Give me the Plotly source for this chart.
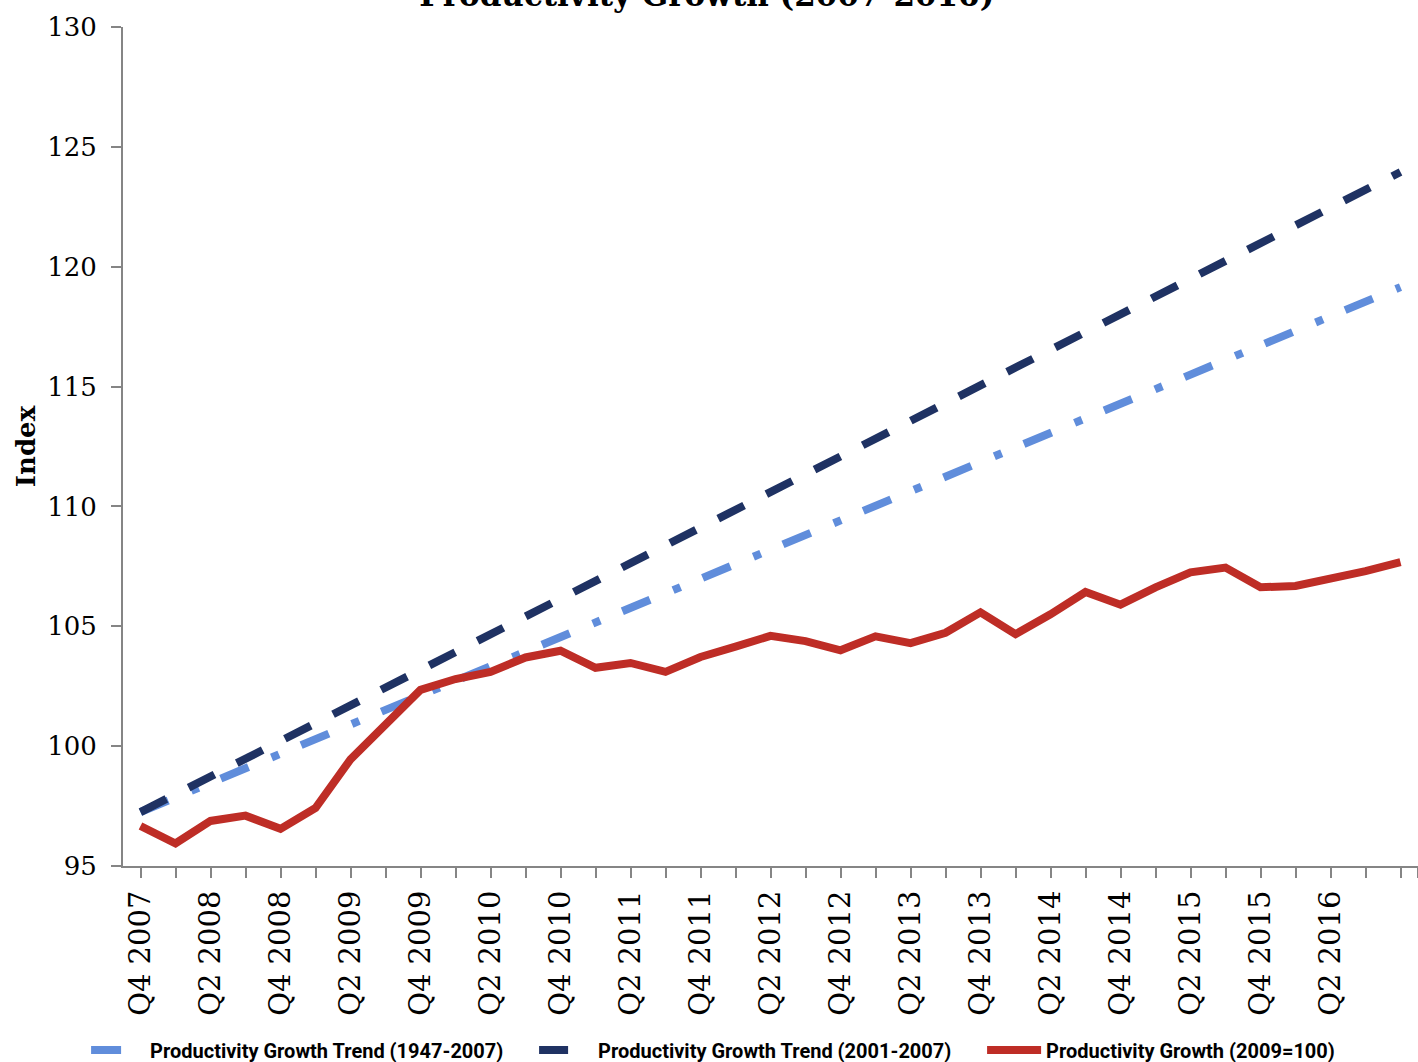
import plotly.graph_objects as go

# Quarterly index values, Q4 2007 through Q4 2016
quarters = [
    "Q4 2007", "Q1 2008", "Q2 2008", "Q3 2008", "Q4 2008",
    "Q1 2009", "Q2 2009", "Q3 2009", "Q4 2009",
    "Q1 2010", "Q2 2010", "Q3 2010", "Q4 2010",
    "Q1 2011", "Q2 2011", "Q3 2011", "Q4 2011",
    "Q1 2012", "Q2 2012", "Q3 2012", "Q4 2012",
    "Q1 2013", "Q2 2013", "Q3 2013", "Q4 2013",
    "Q1 2014", "Q2 2014", "Q3 2014", "Q4 2014",
    "Q1 2015", "Q2 2015", "Q3 2015", "Q4 2015",
    "Q1 2016", "Q2 2016", "Q3 2016", "Q4 2016",
]

trend_1947_2007 = [
    97.25, 97.86, 98.47, 99.07, 99.68, 100.29, 100.90, 101.51, 102.12,
    102.72, 103.33, 103.94, 104.55, 105.16, 105.77, 106.37, 106.98,
    107.59, 108.20, 108.81, 109.42, 110.02, 110.63, 111.24, 111.85,
    112.46, 113.07, 113.67, 114.28, 114.89, 115.50, 116.11, 116.72,
    117.32, 117.93, 118.54, 119.15,
]

trend_2001_2007 = [
    97.25, 97.99, 98.73, 99.48, 100.22, 100.96, 101.70, 102.44, 103.18,
    103.93, 104.67, 105.41, 106.15, 106.89, 107.63, 108.38, 109.12,
    109.86, 110.60, 111.34, 112.08, 112.83, 113.57, 114.31, 115.05,
    115.79, 116.53, 117.28, 118.02, 118.76, 119.50, 120.24, 120.98,
    121.73, 122.47, 123.21, 123.95,
]

productivity = [
    96.67, 95.94, 96.88, 97.10, 96.55, 97.42, 99.45, 100.95, 102.35,
    102.80, 103.10, 103.70, 103.98, 103.27, 103.47, 103.10, 103.72,
    104.15, 104.60, 104.38, 104.00, 104.58, 104.30, 104.73, 105.58,
    104.67, 105.50, 106.43, 105.90, 106.62, 107.25, 107.45, 106.63,
    106.68, 106.98, 107.30, 107.68,
]

y_ticks = [95, 100, 105, 110, 115, 120, 125, 130]

LIGHT_BLUE = "rgb(96,141,219)"
NAVY = "rgb(31,50,99)"
RED = "rgb(190,45,38)"
AXIS_GRAY = "#858585"

idx = list(range(len(quarters)))

fig = go.Figure()
fig.add_trace(go.Scatter(
    x=idx, y=trend_1947_2007, mode="lines",
    name="Productivity Growth Trend (1947-2007)",
    line=dict(color=LIGHT_BLUE, width=8, dash="30px,25px,8px,24px"),
))
fig.add_trace(go.Scatter(
    x=idx, y=trend_2001_2007, mode="lines",
    name="Productivity Growth Trend (2001-2007)",
    line=dict(color=NAVY, width=8, dash="29px,25px"),
))
fig.add_trace(go.Scatter(
    x=idx, y=productivity, mode="lines",
    name="Productivity Growth (2009=100)",
    line=dict(color=RED, width=8),
))

# label every second quarter, tick every quarter (plus the axis end)
tick_vals = idx + [len(quarters) - 0.5]
tick_text = [q if (i % 2 == 0 and i < len(quarters) - 1) else "" for i, q in enumerate(quarters)] + [""]

fig.update_layout(
    width=1418, height=1062,
    margin=dict(l=123, r=0, t=27, b=196, autoexpand=False),
    paper_bgcolor="white", plot_bgcolor="white",
    title=dict(
        text="Productivity Growth (2007-2016)",
        font=dict(family="DejaVu Serif", size=31, color="black", weight="bold"),
        x=0.4985, xanchor="center", xref="container",
        y=1 - 6 / 1062, yanchor="bottom", yref="container",
    ),
    showlegend=True,
    legend=dict(
        orientation="h",
        x=-0.0285, xanchor="left",
        y=-0.2193, yanchor="middle", yref="paper",
        font=dict(family="Roboto", size=20, color="black", weight="bold"),
        itemwidth=54,
        entrywidth=379, entrywidthmode="pixels",
        bgcolor="rgba(0,0,0,0)",
    ),
    xaxis=dict(
        range=[-0.5, len(quarters) - 0.5],
        tickmode="array", tickvals=tick_vals, ticktext=tick_text,
        tickangle=-90,
        ticks="outside", ticklen=10, tickwidth=2, tickcolor=AXIS_GRAY,
        ticklabelstandoff=1,
        showline=True, linecolor=AXIS_GRAY, linewidth=2,
        showgrid=False, zeroline=False, automargin=False,
        tickfont=dict(family="DejaVu Serif", size=29, color="black"),
    ),
    yaxis=dict(
        range=[95, 130],
        tickmode="array", tickvals=y_ticks,
        ticks="outside", ticklen=10, tickwidth=2, tickcolor=AXIS_GRAY,
        ticklabelstandoff=9,
        showline=True, linecolor=AXIS_GRAY, linewidth=2,
        showgrid=False, zeroline=False, automargin=False,
        tickfont=dict(family="DejaVu Serif", size=26, color="black"),
        title=dict(text="Index", standoff=4,
                   font=dict(family="DejaVu Serif", size=26, color="black", weight="bold")),
    ),
)

fig.write_html("out.html")
